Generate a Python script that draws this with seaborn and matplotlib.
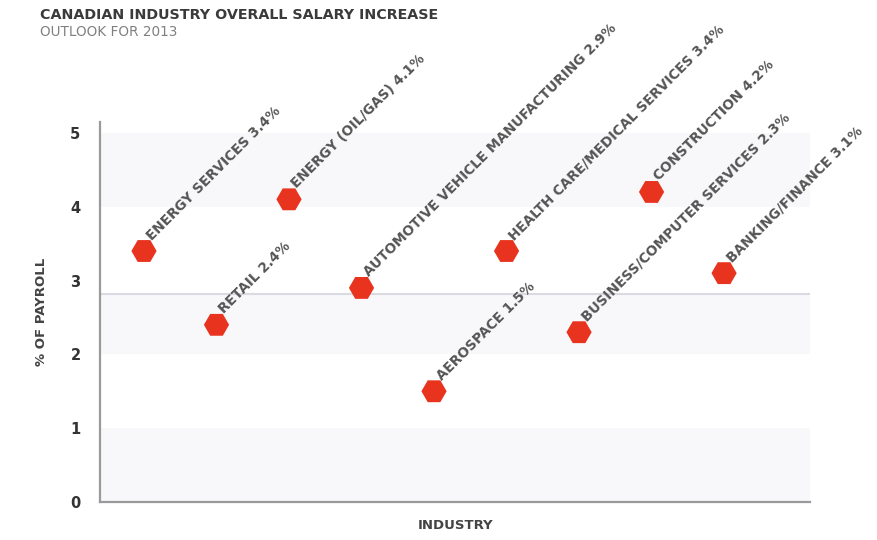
import matplotlib
matplotlib.use("Agg")
import matplotlib.pyplot as plt
import seaborn as sns
import pandas as pd

industries = ["ENERGY SERVICES", "RETAIL", "ENERGY (OIL/GAS)",
              "AUTOMOTIVE VEHICLE MANUFACTURING", "AEROSPACE",
              "HEALTH CARE/MEDICAL SERVICES", "BUSINESS/COMPUTER SERVICES",
              "CONSTRUCTION", "BANKING/FINANCE"]
salary_increase = [3.4, 2.4, 4.1, 2.9, 1.5, 3.4, 2.3, 4.2, 3.1]
average_line = 2.82
y_ticks = [0, 1, 2, 3, 4, 5]

df = pd.DataFrame({"pos": list(range(len(industries))),
                   "industry": industries,
                   "value": salary_increase})

sns.set_theme(style="white")
plt.rcParams['font.family'] = ['DejaVu Sans']

fig = plt.figure(figsize=(8.77, 5.40), dpi=100)
ax = fig.add_axes([0.114, 0.0704, 0.81, 0.704])

# subtle background bands
for lo, hi in [(0, 1), (2, average_line), (4, 5)]:
    ax.axhspan(lo, hi, color="#f8f8fb", zorder=0, lw=0)
ax.axhline(average_line, color="#dadae2", lw=1.5, zorder=1)

sns.scatterplot(data=df, x="pos", y="value", marker="H", s=330,
                color="#e8341f", edgecolor="none", ax=ax, zorder=3)

for _, r in df.iterrows():
    ax.annotate(f"{r['industry']} {r['value']:.1f}%", (r["pos"], r["value"]),
                xytext=(7, 6), textcoords="offset points", rotation=45,
                rotation_mode="anchor", ha="left", va="bottom",
                fontsize=9.8, color="#555555", fontweight="bold")

ax.set_xlim(-0.607, 9.19)
ax.set_ylim(0, 5.15)
ax.set_yticks(y_ticks)
ax.set_yticklabels([str(t) for t in y_ticks], fontsize=10.5, fontweight="bold",
                   color="#333333")
ax.set_xticks([])
ax.tick_params(axis="y", length=0, pad=14)
for s in ["top", "right"]:
    ax.spines[s].set_visible(False)
ax.spines["left"].set_color("#9a9a9a")
ax.spines["bottom"].set_color("#9a9a9a")
ax.spines["left"].set_linewidth(1.6)
ax.spines["bottom"].set_linewidth(1.6)

ax.set_xlabel("INDUSTRY", fontsize=9.5, fontweight="bold", color="#444444",
              labelpad=12)
ax.set_ylabel("% OF PAYROLL", fontsize=9.5, fontweight="bold", color="#444444",
              labelpad=16)

fig.text(0.046, 0.972, "CANADIAN INDUSTRY OVERALL SALARY INCREASE",
         fontsize=10.3, fontweight="bold", color="#3a3a3a", va="center")
fig.text(0.046, 0.94, "OUTLOOK FOR 2013", fontsize=9.8, color="#808080",
         va="center")

fig.savefig("out.png", dpi=100)
